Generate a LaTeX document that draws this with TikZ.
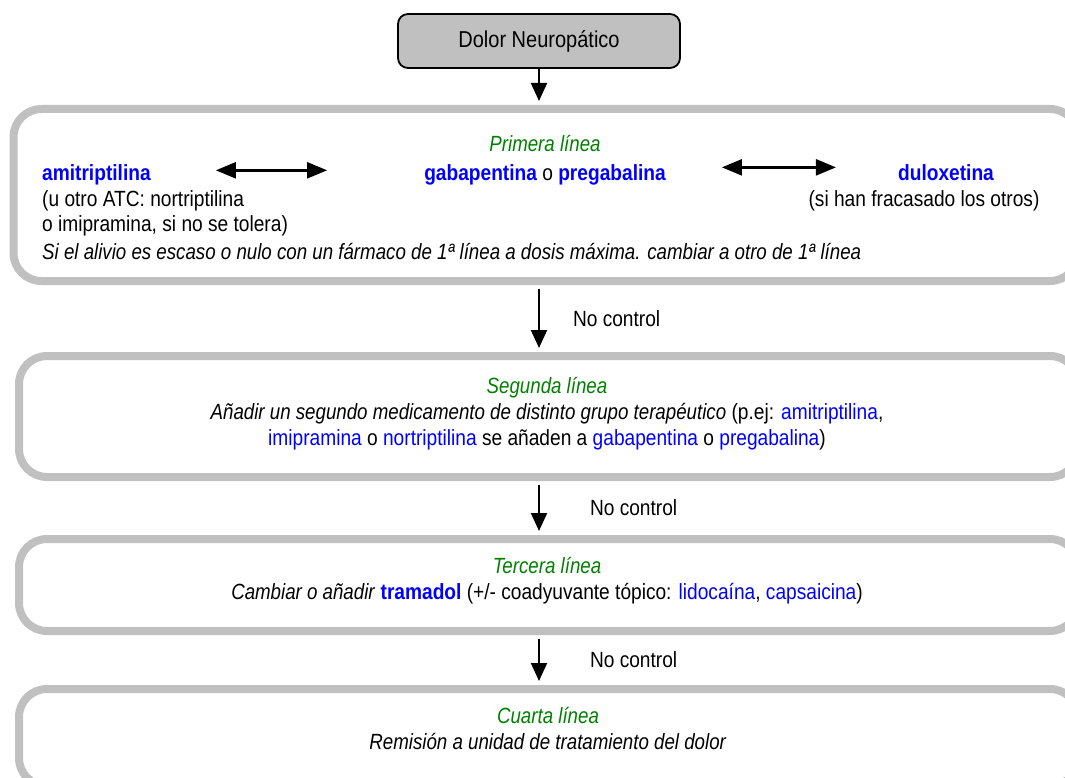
\documentclass[tikz,border=0pt]{standalone}
\usepackage{fontspec}
\setmainfont{Liberation Sans}[UprightFeatures={FakeStretch=0.87}, BoldFeatures={FakeStretch=0.87}, ItalicFeatures={FakeStretch=0.85}, BoldItalicFeatures={FakeStretch=0.85}]
\usepackage{xcolor}
\definecolor{lineagreen}{RGB}{0,128,0}
\definecolor{farmacoblue}{RGB}{0,0,255}
\definecolor{framegray}{RGB}{192,192,192}
\usetikzlibrary{arrows.meta, positioning}
\tikzstyle{titulo}=[rectangle, rounded corners=10pt, minimum width=282pt, minimum height=54pt, text centered, draw=black, line width=1.8pt, fill=framegray, font=\fontsize{23}{26}\selectfont]
\tikzstyle{marco}=[rectangle, rounded corners=28pt, draw=framegray, line width=8pt, inner sep=0pt]
\tikzstyle{texto}=[inner sep=0pt, font=\fontsize{22}{26}\selectfont]
\tikzstyle{arrow}=[line width=2pt, -{Triangle[width=16pt,length=18pt]}]
\tikzstyle{flecha doble}=[line width=2.4pt, {Triangle[width=16pt,length=20pt]}-{Triangle[width=16pt,length=20pt]}]
\newcommand{\farmaco}[1]{\textbf{\color{farmacoblue}#1}}
\newcommand{\azul}[1]{{\color{farmacoblue}#1}}
\newcommand{\linea}[1]{\textit{\color{lineagreen}#1}}

\begin{document}
\begin{tikzpicture}[x=1pt, y=-1pt]
		\useasboundingbox (0,0) rectangle (1065,778);
		\clip (0,0) rectangle (1065,778);
		\node(dolor)[titulo] at (539,41) {Dolor Neuropático};
		% marcos de cada linea
		\node(linea1)[marco, minimum width=1064.5pt, minimum height=172pt] at (545.75,195) {};
		\node(linea2)[marco, minimum width=1059pt, minimum height=121pt] at (548.5,416.5) {};
		\node(linea3)[marco, minimum width=1059pt, minimum height=92pt] at (548.5,585) {};
		\node(linea4)[marco, minimum width=1059pt, minimum height=97pt] at (548.5,737.5) {};
		
		% primera linea
		\node(primera)[texto, anchor=base] at (545,152) {\linea{Primera línea}};
		\node(amitrip)[texto, anchor=base west] at (42,181) {\farmaco{amitriptilina}};
		\node(gaba)[texto, anchor=base] at (545,181) {\farmaco{gabapentina} o \farmaco{pregabalina}};
		\node(dulox)[texto, anchor=base] at (946,181) {\farmaco{duloxetina}};
		\node(atc1)[texto, anchor=base west] at (42,207) {(u otro ATC: nortriptilina};
		\node(atc2)[texto, anchor=base west] at (42,231) {o imipramina, si no se tolera)};
		\node(otros)[texto, anchor=base] at (924,207) {(si han fracasado los otros)};
		\node(alivio)[texto, anchor=base west] at (42,259) {\textit{Si el alivio es escaso o nulo con un fármaco de 1ª línea a dosis máxima. cambiar a otro de 1ª línea}};
		
		% segunda a cuarta linea
		\node(segunda)[texto, align=center] at (547,413.5) {\linea{Segunda línea}\\\textit{Añadir un segundo medicamento de distinto grupo terapéutico} (p.ej: \azul{amitriptilina},\\\azul{imipramina} o \azul{nortriptilina} se añaden a \azul{gabapentina} o \azul{pregabalina})};
		\node(tercera)[texto, align=center] at (547,581) {\linea{Tercera línea}\\\textit{Cambiar o añadir} \farmaco{tramadol} (+/- coadyuvante tópico: \azul{lidocaína}, \azul{capsaicina})};
		\node(cuarta)[texto, align=center] at (548,729) {\linea{Cuarta línea}\\\textit{Remisión a unidad de tratamiento del dolor}};
		
		\draw[flecha doble, shorten <=65pt, shorten >=97pt]([yshift=5pt]amitrip.east)--([yshift=5pt]amitrip.east -| gaba.west);
		\draw[flecha doble, shorten <=56pt, shorten >=62pt]([yshift=8pt]gaba.east)--([yshift=8pt]gaba.east -| dulox.west);
		
		\draw[arrow, shorten >=4pt](dolor.south)--(dolor.south |- linea1.north);
		\draw[arrow, shorten <=4pt, shorten >=4pt](dolor.south |- linea1.south)--(dolor.south |- linea2.north) node(nc1)[texto, midway, right=33pt]{No control};
		\draw[arrow, shorten <=4pt, shorten >=4pt](dolor.south |- linea2.south)--(dolor.south |- linea3.north) node(nc2)[texto, midway, right=50pt]{No control};
		\draw[arrow, shorten <=4pt, shorten >=4pt](dolor.south |- linea3.south)--(dolor.south |- linea4.north) node(nc3)[texto, midway, right=50pt]{No control};
	\end{tikzpicture}
\end{document}
